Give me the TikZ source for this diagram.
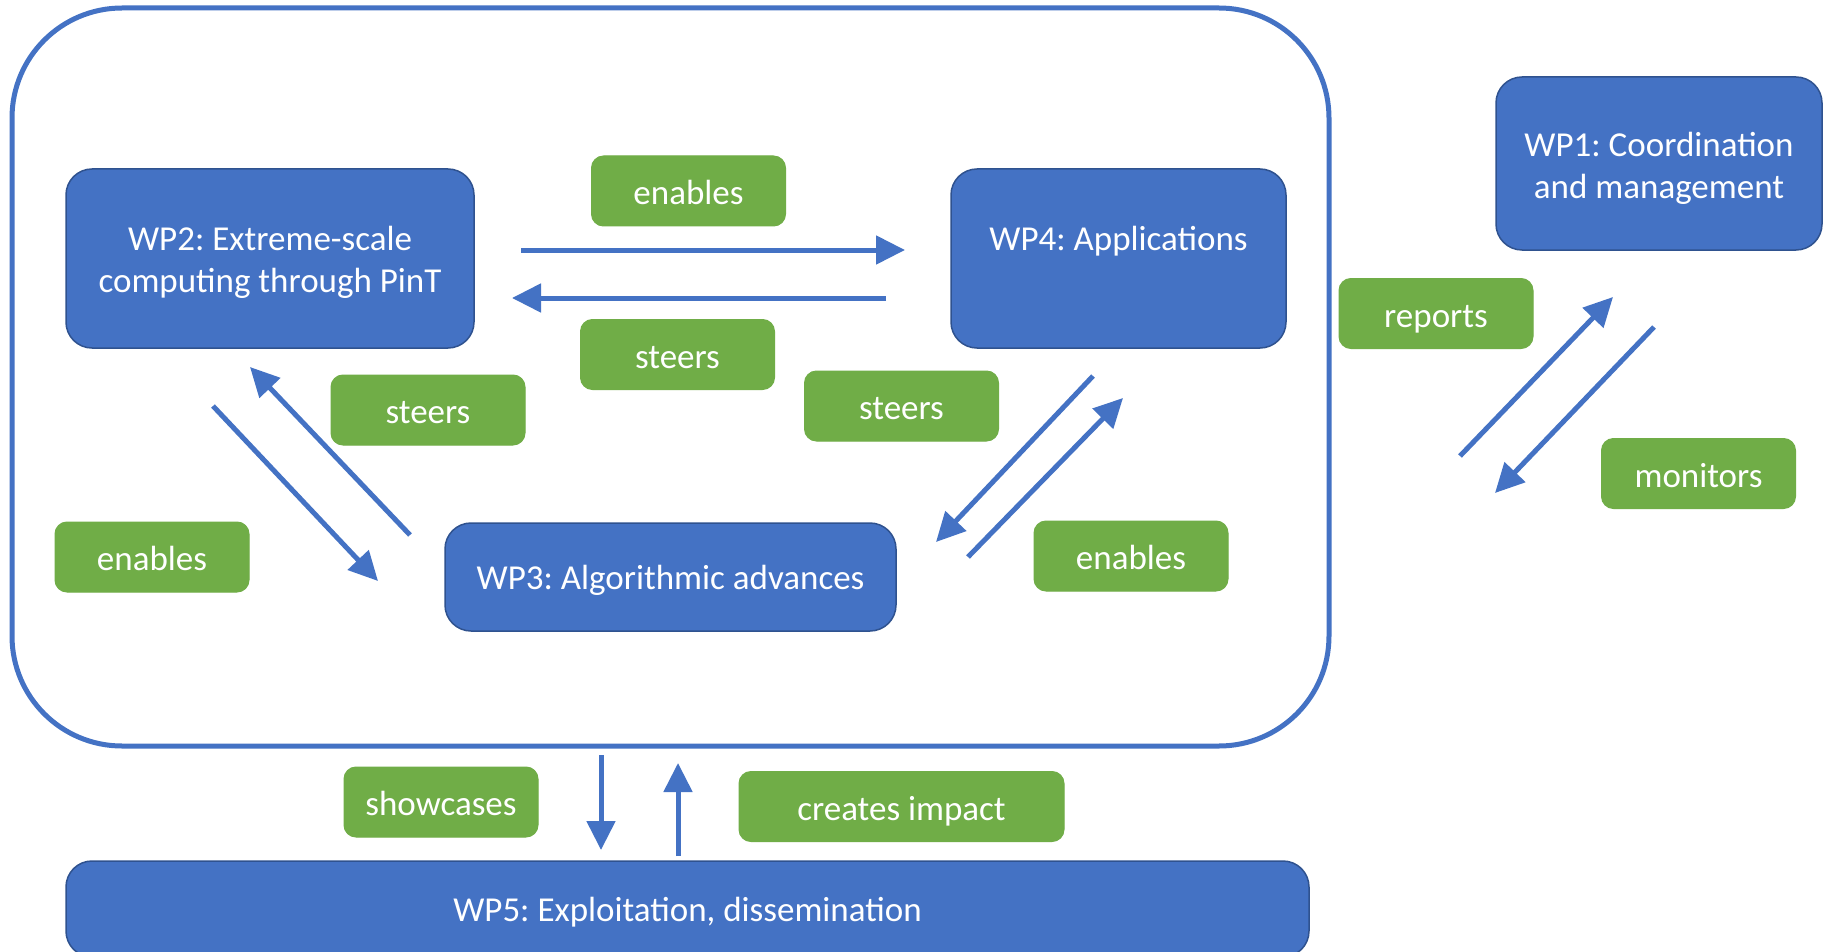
\documentclass[tikz,border=0pt]{standalone}
\usepackage{fontspec}
\setmainfont{Carlito}
\usetikzlibrary{arrows.meta}
\definecolor{wpblue}{HTML}{4472C4}
\definecolor{wpborder}{HTML}{2F528F}
\definecolor{wpgreen}{HTML}{70AD47}
\newcommand{\wplines}[2][4pt]{\raisebox{-#1}[\height][\depth]{\begin{tabular}{@{}c@{}}#2\end{tabular}}}
\tikzset{
  wpbox/.style={draw=wpborder, line width=1.5pt, fill=wpblue, rounded corners=26pt,
    text=white, inner sep=0pt, font=\fontsize{35}{42}\selectfont},
  wpone/.style={wpbox, text height=33pt, text depth=8pt},
  lbl/.style={draw=wpgreen, line width=1pt, fill=wpgreen, rounded corners=12pt,
    text=white, inner sep=0pt, minimum width=194pt, minimum height=70pt,
    text height=35pt, text depth=8pt,
    font=\fontsize{35}{42}\selectfont},
  conn/.style={draw=wpblue, line width=5pt, -{Triangle[length=29pt,width=28pt]}},
}
\begin{document}
\frenchspacing
\begin{tikzpicture}[x=1pt,y=-1pt]
\useasboundingbox[fill=white] (0,0) rectangle (1823,952);
% container
\node[draw=wpblue, line width=5pt, rounded corners=110pt, minimum width=1317pt,
  minimum height=738pt, inner sep=0pt] (core) at (670.5,377) {};
% work packages
\node[wpbox, minimum width=408pt, minimum height=179pt] (wp2) at (270,258.5)
  {\wplines[4.5pt]{WP2: Extreme-scale\\computing through PinT}};
\node[wpbox, minimum width=335pt, minimum height=179pt] (wp4) at (1118.5,258.5)
  {\wplines[4.5pt]{WP4: Applications\\\mbox{}}};
\node[wpbox, minimum width=326pt, minimum height=173pt] (wp1) at (1659,163.5)
  {\wplines[5.5pt]{WP1: Coordination\\and management}};
\node[wpone, minimum width=451pt, minimum height=108pt] (wp3) at (670.5,577)
  {WP3: Algorithmic advances};
\node[wpone, minimum width=1243pt, minimum height=96pt] (wp5) at (687.5,909)
  {WP5: Exploitation, dissemination};
% labels
\node[lbl] (l1) at (688.5,191) {enables};
\node[lbl] (l2) at (677.5,354.5) {steers};
\node[lbl] (l3) at (428,410) {steers};
\node[lbl] (l4) at (901.5,406) {steers};
\node[lbl] (l5) at (152,557) {enables};
\node[lbl] (l6) at (1131,556) {enables};
\node[lbl] (l7) at (1436,313.5) {reports};
\node[lbl] (l8) at (1698.5,473.5) {monitors};
\node[lbl] (l9) at (441,802) {showcases};
\node[lbl, minimum width=325pt] (l10) at (901.5,806.5) {creates impact};
% connector end points
\coordinate (a1s) at (521,250);  \coordinate (a1e) at (905,250);
\coordinate (a2s) at (886,298);  \coordinate (a2e) at (512,298);
\coordinate (a3s) at (213,406);  \coordinate (a3e) at (378,581);
\coordinate (a4s) at (410,535);  \coordinate (a4e) at (250,367);
\coordinate (a5s) at (1093,376); \coordinate (a5e) at (936,542);
\coordinate (a6s) at (968,557);  \coordinate (a6e) at (1123,398);
\coordinate (a7s) at (1460,456); \coordinate (a7e) at (1613,297);
\coordinate (a8s) at (1654,327); \coordinate (a8e) at (1495,493);
\coordinate (a9s) at (601,755);  \coordinate (a9e) at (601,850);
\coordinate (a10s) at (678,856); \coordinate (a10e) at (678,763);
% connectors
\draw[conn] (a1s) -- (a1e);
\draw[conn] (a2s) -- (a2e);
\draw[conn] (a3s) -- (a3e);
\draw[conn] (a4s) -- (a4e);
\draw[conn] (a5s) -- (a5e);
\draw[conn] (a6s) -- (a6e);
\draw[conn] (a7s) -- (a7e);
\draw[conn] (a8s) -- (a8e);
\draw[conn] (a9s) -- (a9e);
\draw[conn] (a10s) -- (a10e);
\end{tikzpicture}
\end{document}
